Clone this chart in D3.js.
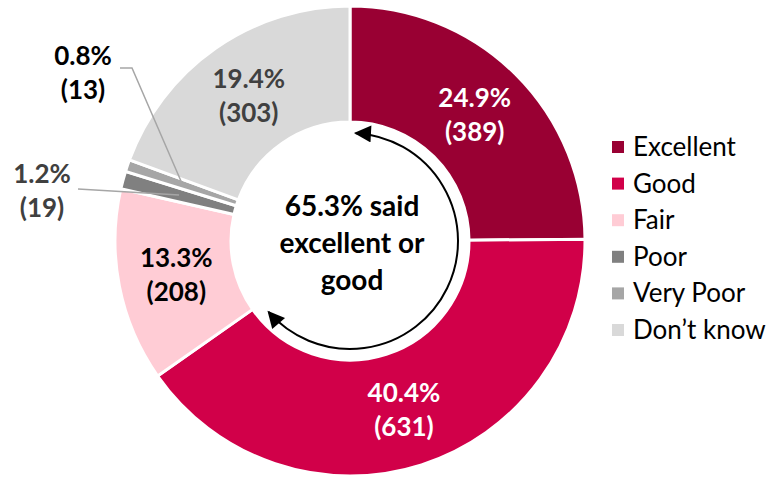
<!DOCTYPE html>
<html>
<head>
<meta charset="utf-8" />
<title>Rating donut</title>
<script src="https://d3js.org/d3.v7.min.js"></script>
<style>
  body { margin: 0; background: #fff; }
  text { font-family: Lato, "Open Sans", sans-serif; }
</style>
</head>
<body>
<script type="text/javascript">
    // data
    var categories = ['Excellent', 'Good', 'Fair', 'Poor', 'Very Poor', 'Don\u2019t know'];
    var counts = [389, 631, 208, 19, 13, 303];
    var percents = ['24.9%', '40.4%', '13.3%', '1.2%', '0.8%', '19.4%'];
    var colors = ['#990033', '#d10049', '#ffccd5', '#808080', '#a6a6a6', '#d9d9d9'];
    var labelColors = ['#ffffff', '#ffffff', '#000000', '#404040', '#000000', '#404040'];
    var centerLines = ['65.3% said', 'excellent or', 'good'];

    var width = 774;
    var height = 479;
    var cx = 350, cy = 241;
    var outerR = 235, innerR = 119;

    var svg = d3.select('body')
        .append('svg')
        .attr('width', width)
        .attr('height', height);

    var rows = categories.map(function (c, i) {
        return { name: c, count: counts[i], pct: percents[i], color: colors[i], label: labelColors[i] };
    });

    var pie = d3.pie()
        .value(function (d) { return d.count; })
        .sort(null);

    var arc = d3.arc()
        .innerRadius(innerR)
        .outerRadius(outerR);

    var labelArc = d3.arc()
        .innerRadius(177)
        .outerRadius(177);

    var g = svg.append('g')
        .attr('transform', 'translate(' + cx + ',' + cy + ')');

    var arcs = pie(rows);

    g.selectAll('.slice')
        .data(arcs)
        .enter()
        .append('path')
        .attr('class', 'slice')
        .attr('d', arc)
        .attr('fill', function (d) { return d.data.color; })
        .attr('stroke', '#ffffff')
        .attr('stroke-width', 3);

    // big slices get their labels inside
    var inside = arcs.filter(function (d) { return d.data.count > 100; });
    var lab = g.selectAll('.lab')
        .data(inside)
        .enter()
        .append('text')
        .attr('class', 'lab')
        .attr('transform', function (d) { return 'translate(' + labelArc.centroid(d) + ')'; })
        .attr('text-anchor', 'middle')
        .attr('font-size', 26)
        .attr('font-weight', 'bold')
        .attr('fill', function (d) { return d.data.label; });
    lab.append('tspan').attr('x', 0).attr('y', -8).text(function (d) { return d.data.pct; });
    lab.append('tspan').attr('x', 0).attr('y', 26).text(function (d) { return '(' + d.data.count + ')'; });

    // small slices: labels outside with leader lines
    var outside = [
        { i: 3, tx: 42, ty: 183, line: [[78, 189 - cy]] },
        { i: 4, tx: 83, ty: 65, line: [[120, 68 - cy], [132, 68 - cy]] }
    ];
    outside.forEach(function (o) {
        var d = arcs[o.i];
        var c = labelArc.centroid(d);
        var pts = o.line.map(function (p) { return [p[0] - cx, p[1]]; });
        pts.push(c);
        g.append('path')
            .attr('d', d3.line()(pts))
            .attr('fill', 'none')
            .attr('stroke', '#a6a6a6')
            .attr('stroke-width', 1.5);
        var t = svg.append('text')
            .attr('text-anchor', 'middle')
            .attr('font-size', 26)
            .attr('font-weight', 'bold')
            .attr('fill', d.data.label);
        t.append('tspan').attr('x', o.tx).attr('y', o.ty).text(d.data.pct);
        t.append('tspan').attr('x', o.tx).attr('y', o.ty + 34).text('(' + d.data.count + ')');
    });

    // double headed arc arrow round the hole
    var defs = svg.append('defs');
    defs.append('marker')
        .attr('id', 'head')
        .attr('viewBox', '0 0 10 10')
        .attr('refX', 9)
        .attr('refY', 5)
        .attr('markerWidth', 21)
        .attr('markerHeight', 17)
        .attr('markerUnits', 'userSpaceOnUse')
        .attr('orient', 'auto-start-reverse')
        .append('path')
        .attr('d', 'M0,0L10,5L0,10Z')
        .attr('fill', '#000');

    var goodEnd = arcs[1].endAngle;
    var a0 = 3 * Math.PI / 180, a1 = goodEnd - 6 * Math.PI / 180;
    var p = d3.path();
    p.arc(0, 0, 108, a0 - Math.PI / 2, a1 - Math.PI / 2, false);
    g.append('path')
        .attr('d', p.toString())
        .attr('fill', 'none')
        .attr('stroke', '#000')
        .attr('stroke-width', 2)
        .attr('marker-start', 'url(#head)')
        .attr('marker-end', 'url(#head)');

    var ct = g.append('text')
        .attr('text-anchor', 'middle')
        .attr('font-size', 28)
        .attr('font-weight', 'bold')
        .attr('fill', '#000');
    centerLines.forEach(function (s, i) {
        ct.append('tspan').attr('x', 2).attr('y', -25 + i * 37).text(s);
    });

    // legend
    var legend = svg.selectAll('.leg')
        .data(rows)
        .enter()
        .append('g')
        .attr('class', 'leg')
        .attr('transform', function (d, i) { return 'translate(612,' + (147 + i * 36.6) + ')'; });
    legend.append('rect')
        .attr('x', 0).attr('y', -6)
        .attr('width', 12).attr('height', 12)
        .attr('fill', function (d) { return d.color; });
    legend.append('text')
        .attr('x', 21).attr('y', 9)
        .attr('font-size', 26)
        .attr('fill', '#000')
        .text(function (d) { return d.name; });
</script>
</body>
</html>
